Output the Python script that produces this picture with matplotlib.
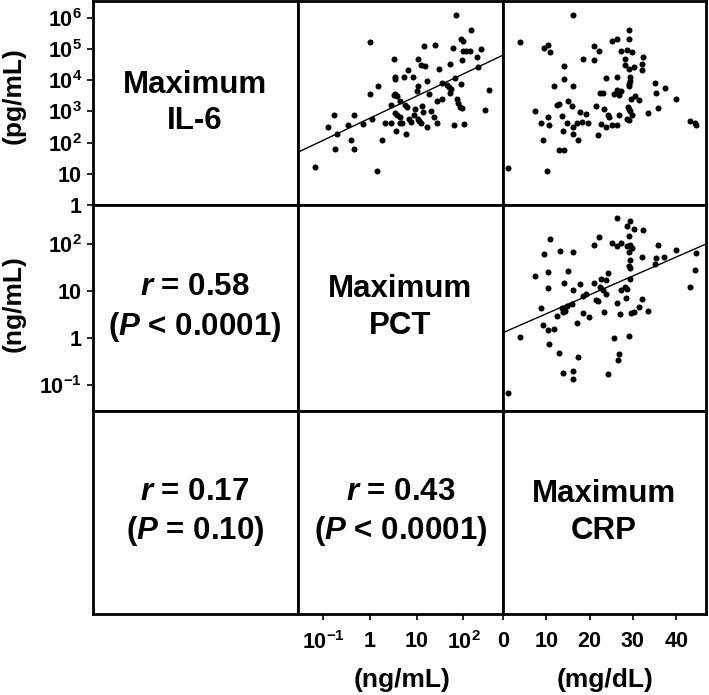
import matplotlib
matplotlib.use("Agg")
import matplotlib.pyplot as plt
import numpy as np

plt.rcParams['font.family'] = 'Liberation Sans'
plt.rcParams['font.weight'] = 'bold'
plt.rcParams['mathtext.fontset'] = 'custom'
plt.rcParams['mathtext.rm'] = 'Liberation Sans:bold'
plt.rcParams['mathtext.bf'] = 'Liberation Sans:bold'
plt.rcParams['mathtext.it'] = 'Liberation Sans:italic:bold'

# panel IL-6 vs PCT (log10 values)
pct_log_a = [1.83, 2.16, 1.95, 1.99, 0.01, 1.15, 1.40, 1.77, 1.99, 2.05, 2.13, 2.37, 0.51, 1.03,
             2.28, 1.96, 1.09, 1.17, 1.72, 2.31, 0.82, 1.47, 0.53, 0.54, 0.74, 0.92, 1.82, 1.23,
             1.03, 1.55, 1.65, 0.18, 1.94, 1.00, 1.69, 1.74, 2.54, 0.00, 0.54, 0.52, 0.57, 1.26,
             1.71, 0.65, 0.45, 0.75, 0.79, 1.43, 1.54, 1.86, 1.89, 0.96, 1.11, 1.92, 1.97, 2.47,
             -0.77, -0.34, 0.54, 0.59, 0.64, 0.94, 1.14, 1.30, 1.38, 1.02, 0.04, 0.83, 0.88, 1.05,
             1.09, -0.89, -0.47, -0.14, 0.32, 0.45, 0.64, 0.69, 1.22, 1.43, 1.79, 2.01, -0.70, 0.55,
             0.77, -0.40, 0.26, -0.75, -0.33, -1.17, 0.16]
il6_log_a = [6.10, 5.61, 5.33, 5.25, 5.23, 5.10, 5.12, 5.04, 4.94, 4.93, 4.94, 4.99, 4.69, 4.67,
             4.75, 4.64, 4.48, 4.45, 4.53, 4.43, 4.32, 4.35, 4.09, 4.04, 4.09, 4.09, 4.07, 3.96,
             3.82, 3.92, 3.83, 3.81, 3.87, 3.66, 3.77, 3.70, 3.68, 3.56, 3.56, 3.53, 3.49, 3.57,
             3.60, 3.34, 3.21, 3.21, 3.15, 3.34, 3.38, 3.40, 3.26, 3.06, 3.17, 3.15, 3.10, 3.05,
             2.89, 2.89, 2.94, 2.87, 2.83, 2.89, 2.98, 3.01, 2.83, 2.75, 2.74, 2.74, 2.67, 2.70,
             2.62, 2.50, 2.56, 2.59, 2.64, 2.62, 2.63, 2.63, 2.50, 2.63, 2.56, 2.58, 2.28, 2.37,
             2.26, 2.08, 2.08, 1.78, 1.78, 1.21, 1.09]
fit_a = (0.71, 2.78)  # slope, intercept in log-log

# panel IL-6 vs CRP
crp_b = [16.3, 3.9, 9.5, 10.5, 10.9, 29.2, 25.3, 26.3, 29.0, 21.1, 22.3, 27.2, 28.7, 29.7,
         18.6, 21.1, 28.3, 32.4, 14.2, 28.2, 29.2, 30.3, 32.0, 32.2, 14.2, 23.9, 26.4, 29.3,
         29.3, 11.8, 16.3, 29.0, 29.2, 35.0, 22.4, 23.2, 25.6, 26.3, 27.2, 26.9, 35.4, 37.3,
         30.5, 29.6, 31.3, 39.9, 15.1, 12.4, 12.9, 15.9, 21.6, 7.5, 17.9, 19.1, 23.3, 24.2,
         24.4, 28.9, 29.2, 29.4, 26.7, 29.8, 33.4, 35.8, 10.4, 13.6, 8.7, 10.6, 14.9, 17.0,
         18.3, 19.7, 16.3, 28.6, 29.0, 22.6, 23.7, 25.2, 26.4, 43.2, 44.4, 44.6, 13.9, 16.1,
         21.9, 9.2, 17.3, 12.9, 14.1, 1.2, 10.3]
il6_log_b = [6.10, 5.23, 5.04, 5.13, 4.90, 5.61, 5.25, 5.32, 5.33, 5.10, 4.94, 4.93, 4.96, 4.91,
             4.69, 4.64, 4.67, 4.75, 4.45, 4.47, 4.35, 4.43, 4.52, 4.32, 4.03, 4.08, 4.09, 4.09,
             3.97, 3.81, 3.82, 3.87, 3.81, 3.91, 3.59, 3.58, 3.56, 3.68, 3.66, 3.52, 3.59, 3.74,
             3.48, 3.39, 3.36, 3.40, 3.34, 3.20, 3.23, 3.18, 3.16, 3.02, 2.97, 2.91, 3.06, 2.88,
             2.83, 3.15, 3.06, 3.00, 2.88, 2.87, 2.95, 3.10, 2.82, 2.85, 2.62, 2.56, 2.63, 2.63,
             2.65, 2.62, 2.49, 2.76, 2.72, 2.59, 2.51, 2.57, 2.55, 2.70, 2.62, 2.56, 2.37, 2.27,
             2.25, 2.07, 2.07, 1.77, 1.77, 1.19, 1.08]

# panel PCT vs CRP
crp_c = [26.3, 29.4, 28.7, 30.3, 32.4, 22.3, 10.9, 29.2, 25.2, 26.3, 27.3, 21.1, 28.7, 29.3,
         29.7, 35.8, 39.9, 9.5, 13.1, 16.3, 29.2, 44.6, 29.3, 32.0, 35.4, 37.2, 35.0, 29.2,
         29.4, 44.3, 10.5, 15.0, 24.2, 7.5, 22.6, 23.7, 14.2, 17.8, 21.1, 29.3, 10.5, 16.3,
         22.4, 23.0, 23.9, 27.3, 28.1, 28.6, 18.4, 19.1, 43.1, 21.5, 21.9, 15.9, 14.9, 28.4,
         32.2, 8.7, 13.6, 14.0, 14.3, 26.3, 12.4, 18.6, 19.8, 23.3, 27.0, 29.5, 30.3, 31.3,
         33.4, 17.0, 9.2, 10.4, 11.9, 3.9, 25.7, 29.0, 10.6, 13.0, 17.3, 26.7, 26.5, 14.0,
         16.2, 16.3, 24.2, 1.2]
pct_log_c = [2.57, 2.50, 2.40, 2.32, 2.31, 2.16, 2.12, 2.19, 2.04, 1.97, 2.04, 1.98, 1.97, 1.99,
             1.92, 1.99, 1.89, 1.79, 1.87, 1.84, 1.84, 1.81, 1.67, 1.74, 1.72, 1.74, 1.58, 1.54,
             1.50, 1.45, 1.42, 1.44, 1.40, 1.32, 1.27, 1.25, 1.18, 1.15, 1.17, 1.26, 1.07, 1.04,
             1.09, 1.02, 0.94, 1.02, 1.09, 1.05, 0.90, 0.95, 1.10, 0.82, 0.79, 0.74, 0.69, 0.86,
             0.83, 0.65, 0.65, 0.56, 0.58, 0.75, 0.48, 0.53, 0.46, 0.56, 0.52, 0.55, 0.57, 0.66,
             0.58, 0.33, 0.28, 0.18, 0.19, 0.02, 0.01, 0.05, -0.13, -0.32, -0.39, -0.33, -0.46, -0.74,
             -0.69, -0.87, -0.76, -1.16]
fit_c = (0.0403, 0.12)  # slope, intercept of log10 PCT on CRP

il6_lim = (1, 10 ** 6.535)
pct_lim = (10 ** -1.54, 10 ** 2.84)
crp_lim = (0, 46.8)

il6_ticks = [1, 10, 1e2, 1e3, 1e4, 1e5, 1e6]
il6_labels = ['1', '10', r'$10^{2}$', r'$10^{3}$', r'$10^{4}$', r'$10^{5}$', r'$10^{6}$']
pct_ticks = [0.1, 1, 10, 100]
pct_labels = [r'$10^{-1}$', '1', '10', r'$10^{2}$']
crp_ticks = [0, 10, 20, 30, 40]

W, H = 709, 695
fig = plt.figure(figsize=(W / 100, H / 100), dpi=100)
xe = [92.5, 297.7, 502.8, 705.7]
ye = [1, 205, 410.7, 614]
axes = [[None] * 3 for _ in range(3)]
for r in range(3):
    for c in range(3):
        ax = fig.add_axes([xe[c] / W, 1 - ye[r + 1] / H, (xe[c + 1] - xe[c]) / W, (ye[r + 1] - ye[r]) / H])
        for s in ax.spines.values():
            s.set_linewidth(2.0)
        ax.tick_params(left=False, bottom=False, labelleft=False, labelbottom=False)
        axes[r][c] = ax

lab = dict(fontsize=22.5, fontweight='bold', ha='center', va='center', linespacing=1.3)
axes[0][0].text(0.5, 0.5, 'Maximum\nIL-6', transform=axes[0][0].transAxes, **lab)
axes[1][1].text(0.5, 0.5, 'Maximum\nPCT', transform=axes[1][1].transAxes, **lab)
axes[2][2].text(0.5, 0.5, 'Maximum\nCRP', transform=axes[2][2].transAxes, **lab)
axes[1][0].text(0.5, 0.5, '$r$ = 0.58\n($P$ < 0.0001)', transform=axes[1][0].transAxes, **lab)
axes[2][0].text(0.5, 0.5, '$r$ = 0.17\n($P$ = 0.10)', transform=axes[2][0].transAxes, **lab)
axes[2][1].text(0.5, 0.5, '$r$ = 0.43\n($P$ < 0.0001)', transform=axes[2][1].transAxes, **lab)

# scatter panels
ax = axes[0][1]
ax.scatter(10 ** np.array(pct_log_a), 10 ** np.array(il6_log_a), s=19, color='black', linewidths=0)
xs = np.linspace(np.log10(pct_lim[0]), np.log10(pct_lim[1]), 50)
ax.plot(10 ** xs, 10 ** (fit_a[0] * xs + fit_a[1]), color='black', lw=1.0)
ax.set_xscale('log'); ax.set_yscale('log')
ax.set_xlim(pct_lim); ax.set_ylim(il6_lim)

ax = axes[0][2]
ax.scatter(crp_b, 10 ** np.array(il6_log_b), s=19, color='black', linewidths=0)
ax.set_yscale('log')
ax.set_xlim(crp_lim); ax.set_ylim(il6_lim)

ax = axes[1][2]
ax.scatter(crp_c, 10 ** np.array(pct_log_c), s=19, color='black', linewidths=0)
xc = np.linspace(crp_lim[0], crp_lim[1], 50)
ax.plot(xc, 10 ** (fit_c[0] * xc + fit_c[1]), color='black', lw=1.0)
ax.set_yscale('log')
ax.set_xlim(crp_lim); ax.set_ylim(pct_lim)

# axis ticks on the outer edges
tk = dict(labelsize=15.5, length=4, width=1.2, pad=3.5)
ax = axes[0][0]
ax.set_yscale('log'); ax.set_ylim(il6_lim)
ax.set_yticks(il6_ticks, il6_labels)
ax.tick_params(axis='y', left=True, labelleft=True, **tk)
ax = axes[1][0]
ax.set_yscale('log'); ax.set_ylim(pct_lim)
ax.set_yticks(pct_ticks, pct_labels)
ax.tick_params(axis='y', left=True, labelleft=True, **tk)
ax = axes[2][1]
ax.set_xscale('log'); ax.set_xlim(pct_lim)
ax.set_xticks(pct_ticks, pct_labels)
ax.tick_params(axis='x', bottom=True, labelbottom=True, **dict(tk, pad=8))
ax = axes[2][2]
ax.set_xlim(crp_lim)
ax.set_xticks(crp_ticks, [str(t) for t in crp_ticks])
ax.tick_params(axis='x', bottom=True, labelbottom=True, **dict(tk, pad=8))
for row in axes:
    for ax in row:
        ax.minorticks_off()

fig.text(14 / W, 1 - 96 / H, '(pg/mL)', rotation=90, fontsize=19, fontweight='bold', ha='center', va='center')
fig.text(14 / W, 1 - 304 / H, '(ng/mL)', rotation=90, fontsize=19, fontweight='bold', ha='center', va='center')
fig.text(402 / W, 1 - 680 / H, '(ng/mL)', fontsize=19, fontweight='bold', ha='center', va='center')
fig.text(605 / W, 1 - 680 / H, '(mg/dL)', fontsize=19, fontweight='bold', ha='center', va='center')

fig.savefig('out.png', dpi=100)
